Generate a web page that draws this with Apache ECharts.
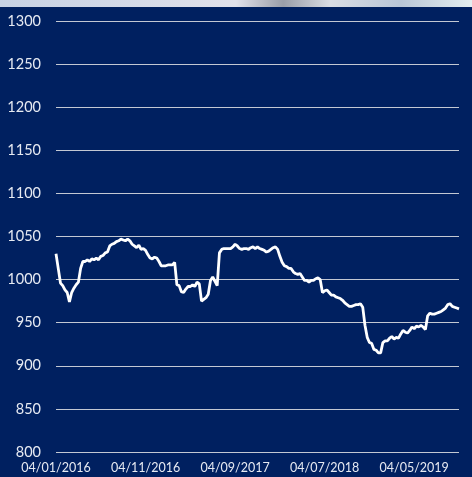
<!DOCTYPE html>
<html>
<head>
<meta charset="utf-8">
<script src="https://cdn.jsdelivr.net/npm/echarts@6/dist/echarts.min.js"></script>
<style>
html,body{margin:0;padding:0;background:#002060;}
#chart{width:472px;height:477px;}
</style>
</head>
<body>
<div id="chart"></div>
<script>
// Tick labels on the x axis (one every 40 observations, 4 observations per month)
const tickLabels = ['04/01/2016', '04/11/2016', '04/09/2017', '04/07/2018', '04/05/2019'];
const obsDays = ['04', '11', '19', '26'];
const startYear = 2016, startMonth = 1, monthsCount = 45;

// Index values (Jan 2016 - Oct 2019)
const values = [
  1030, 1013, 996, 993, 988, 985, 974, 985, 990, 994,
  997, 1013, 1021, 1021, 1023, 1021, 1024, 1023, 1025, 1023,
  1027, 1028, 1031, 1032, 1039, 1041, 1042, 1044, 1045, 1047,
  1046, 1045, 1047, 1045, 1041, 1039, 1037, 1040, 1035, 1036,
  1034, 1029, 1025, 1024, 1026, 1025, 1021, 1016, 1016, 1016,
  1017, 1017, 1017, 1020, 994, 993, 986, 985, 989, 992,
  992, 994, 992, 997, 995, 975, 977, 979, 983, 999,
  1003, 998, 993, 1031, 1035, 1036, 1036, 1036, 1036, 1038,
  1041, 1039, 1036, 1035, 1036, 1036, 1035, 1037, 1038, 1036,
  1038, 1036, 1035, 1034, 1032, 1033, 1035, 1037, 1038, 1035,
  1027, 1020, 1016, 1015, 1013, 1013, 1009, 1007, 1006, 1007,
  1003, 999, 999, 997, 999, 999, 1001, 1002, 1000, 985,
  987, 988, 985, 982, 982, 980, 979, 978, 976, 973,
  971, 969, 969, 970, 971, 971, 972, 968, 947, 933,
  927, 926, 919, 918, 915, 915, 927, 929, 929, 932,
  934, 931, 933, 932, 937, 941, 939, 938, 941, 945,
  943, 946, 945, 947, 945, 942, 958, 961, 960, 960,
  961, 962, 963, 965, 967, 971, 972, 969, 968, 967,
  966
];

const categories = [];
for (let m = 0; m < monthsCount; m++) {
  const y = startYear + Math.floor((startMonth - 1 + m) / 12);
  const mo = ((startMonth - 1 + m) % 12) + 1;
  obsDays.forEach(d => categories.push(d + '/' + String(mo).padStart(2, '0') + '/' + y));
}
categories.push('04/10/2019');

const chart = echarts.init(document.getElementById('chart'), null, {renderer: 'canvas'});
chart.setOption({
  backgroundColor: '#002060',
  animation: false,
  graphic: [{
    type: 'rect',
    left: 0, top: 0,
    shape: {width: 472, height: 7},
    style: {
      fill: new echarts.graphic.LinearGradient(0, 0, 1, 0, [
        {offset: 0, color: '#c7d2e4'},
        {offset: 0.3, color: '#d6dbe8'},
        {offset: 0.5, color: '#e2e2ea'},
        {offset: 0.6, color: '#9a9ea8'},
        {offset: 0.7, color: '#d9dde4'},
        {offset: 0.85, color: '#b9c6d6'},
        {offset: 1, color: '#e4eef0'}
      ])
    }
  }],
  grid: {left: 56, right: 13, top: 21, bottom: 25, containLabel: false},
  xAxis: {
    type: 'category',
    data: categories,
    boundaryGap: false,
    axisLine: {show: false},
    axisTick: {show: false},
    splitLine: {show: false},
    axisLabel: {
      interval: 39,
      color: '#e6eaf2',
      fontFamily: 'Lato',
      fontSize: 12.5,
      margin: 9,
      formatter: (v) => tickLabels.includes(v) ? v : ''
    }
  },
  yAxis: {
    type: 'value',
    min: 800,
    max: 1300,
    interval: 50,
    axisLine: {show: false},
    axisTick: {show: false},
    splitLine: {lineStyle: {color: '#c3c8d3', width: 1.2}},
    axisLabel: {
      color: '#e6eaf2',
      fontFamily: 'Lato',
      fontSize: 14.5,
      margin: 15,
      formatter: (v) => String(v)
    }
  },
  series: [{
    type: 'line',
    data: values,
    showSymbol: false,
    symbol: 'none',
    lineStyle: {color: '#ffffff', width: 2.8},
    z: 5
  }]
});
</script>
</body>
</html>
